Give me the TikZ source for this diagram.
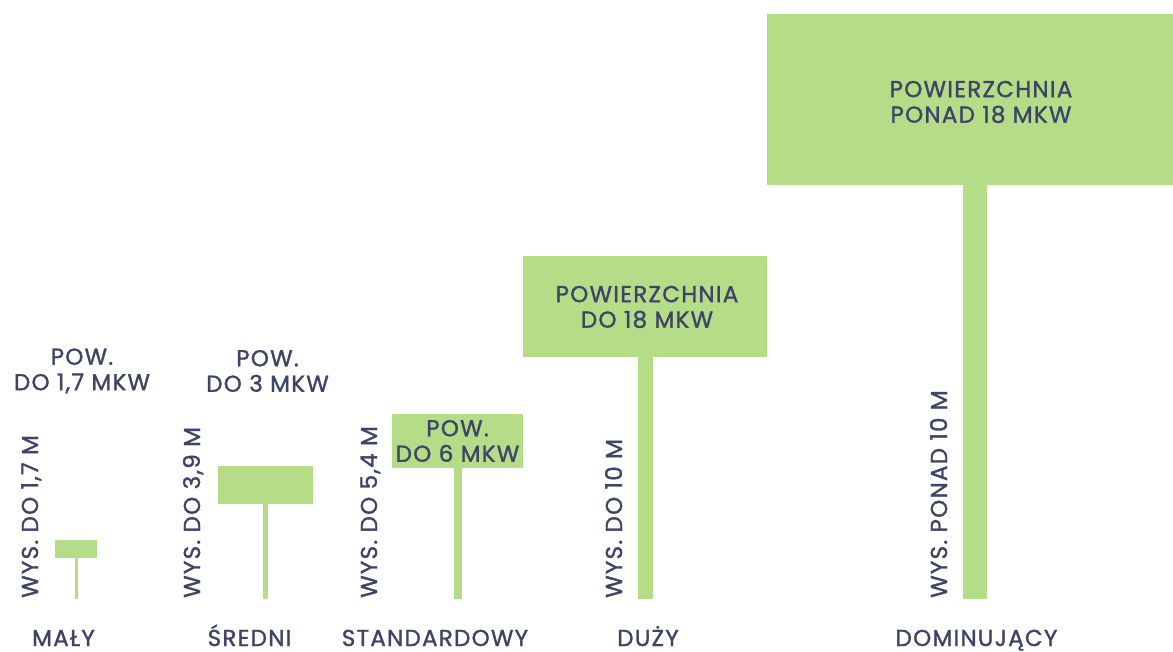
\documentclass[tikz,border=0pt]{standalone}
\usepackage{fontspec}
\setmainfont{Poppins}[LetterSpace=5.5,FakeBold=1.3]
\definecolor{grn}{RGB}{181,221,135}
\definecolor{ink}{RGB}{62,67,104}
\begin{document}
\begin{tikzpicture}[x=1pt,y=-1pt,
  box/.style={fill=grn,inner sep=0pt,outer sep=0pt},
  lbl/.style={text=ink,font=\fontsize{23}{25.5}\selectfont,inner sep=0pt,align=center},
  vlbl/.style={lbl,rotate=90,anchor=base west},
  blbl/.style={lbl,anchor=base}]
\useasboundingbox[fill=white] (0,0) rectangle (1173,652);
% boxes
\node[box,minimum width=42pt,minimum height=18pt] (b1) at (76,549) {};
\node[box,minimum width=95pt,minimum height=38pt] (b2) at (265.5,485) {};
\node[box,minimum width=131pt,minimum height=54pt] (b3) at (457.5,441) {};
\node[box,minimum width=244pt,minimum height=101pt] (b4) at (645,306.5) {};
\node[box,minimum width=406pt,minimum height=171pt] (b5) at (970,99.5) {};
% poles
\coordinate (g1) at (76.5,599);
\coordinate (g2) at (265.5,599);
\coordinate (g3) at (458,599);
\coordinate (g4) at (645.5,599);
\coordinate (g5) at (975,599);
\fill[grn] ([xshift=-1.5pt]b1.south -| g1) rectangle ([xshift=1.5pt]g1);
\fill[grn] ([xshift=-2.5pt]b2.south -| g2) rectangle ([xshift=2.5pt]g2);
\fill[grn] ([xshift=-4pt]b3.south -| g3) rectangle ([xshift=4pt]g3);
\fill[grn] ([xshift=-7.5pt]b4.south -| g4) rectangle ([xshift=7.5pt]g4);
\fill[grn] ([xshift=-12pt]b5.south -| g5) rectangle ([xshift=12pt]g5);
% area labels
\node[lbl] (a1) at (82,371) {POW.\\DO 1,7 MKW};
\node[lbl] (a2) at (267.5,371) {POW.\\DO 3 MKW};
\node[lbl] (a3) at (b3.center) {POW.\\DO 6 MKW};
\node[lbl] (a4) at (647,307) {POWIERZCHNIA\\DO 18 MKW};
\node[lbl] (a5) at (981,102) {POWIERZCHNIA\\PONAD 18 MKW};
% height labels
\node[vlbl] (h1) at (38,598) {WYS. DO 1,7 M};
\node[vlbl] (h2) at (200,598) {WYS. DO 3,9 M};
\node[vlbl] (h3) at (377,598) {WYS. DO 5,4 M};
\node[vlbl] (h4) at (622,598) {WYS. DO 10 M};
\node[vlbl] (h5) at (947,598) {WYS. PONAD 10 M};
% names
\node[blbl] (n1) at (63.5,646) {MAŁY};
\node[blbl] (n2) at (249.5,646) {ŚREDNI};
\node[blbl] (n3) at (435,646) {STANDARDOWY};
\node[blbl] (n4) at (648,646) {DUŻY};
\node[blbl] (n5) at (976.5,646) {DOMINUJĄCY};
\end{tikzpicture}
\end{document}
